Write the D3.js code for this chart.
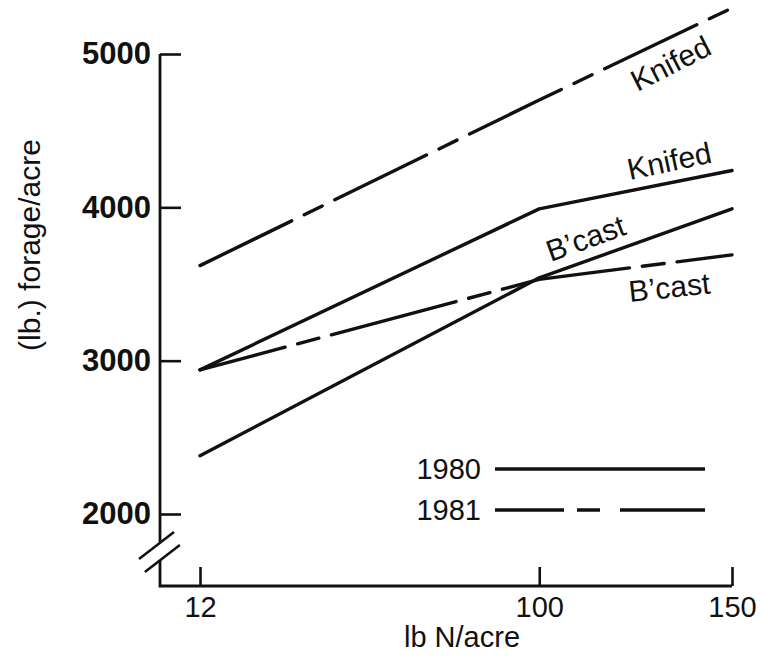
<!DOCTYPE html>
<html>
<head>
<meta charset="utf-8">
<script src="https://cdn.jsdelivr.net/npm/d3@7"></script>
<style>
  body { margin: 0; background: #fff; }
  svg { display: block; }
  text { font-family: "Liberation Sans", Arial, Helvetica, sans-serif; fill: #111; }
</style>
</head>
<body>
<svg id="chart" width="761" height="661"></svg>
<script>
"use strict";

// nitrogen rate (lb N/acre)
const nRates = [12, 100, 150];
// forage yield (lb/acre)
const knifed1980 = [2940, 3990, 4240];
const bcast1980  = [2380, 3540, 3990];
const knifed1981 = [3620, 4700, 5300];
const bcast1981  = [2940, 3530, 3690];

const yTicks = [2000, 3000, 4000, 5000];
const xTicks = [12, 100, 150];
const years = ["1980", "1981"];

// line label anchors, in data units
const labelText = ["Knifed", "Knifed", "B\u2019cast", "B\u2019cast"];
const labelN    = [125.5, 123.5, 103, 123.5];
const labelYld  = [4752, 4178, 3643, 3383];
const labelRot  = [-27, -12, -20, -6];

const dashKnifed81 = "102,14,20,14";
const dashBcast81 = "129,13,22,13";

const svg = d3.select("#chart");
const ink = "#111";
const fs = "29px";

const x = d3.scaleLinear().domain([12, 150]).range([200, 732]);
const y = d3.scaleLinear().domain([2000, 5000]).range([514, 54]);

const axisX = x(12) - 40;      // where the y axis sits
const axisY = y(2000) + 72;    // where the x axis sits

// y axis, ticks point inward
const gy = svg.append("g")
	.attr("transform", `translate(${axisX},0)`)
	.call(d3.axisLeft(y).tickValues(yTicks).tickFormat(d3.format("d"))
		.tickSize(-21).tickSizeOuter(0).tickPadding(9));
gy.select(".domain").remove();
gy.selectAll("line").attr("stroke", ink).attr("stroke-width", 2.6);
gy.selectAll("text")
	.style("font-size", "31px")
	.style("font-weight", "bold")
	.attr("fill", ink);

// x axis, ticks point up
const gx = svg.append("g")
	.attr("transform", `translate(0,${axisY})`)
	.call(d3.axisBottom(x).tickValues(xTicks).tickSize(-19).tickSizeOuter(0).tickPadding(10));
gx.select(".domain").remove();
gx.selectAll("line").attr("stroke", ink).attr("stroke-width", 2.6);
gx.selectAll("text")
	.style("font-size", fs)
	.attr("fill", ink);

// axis lines with the break
const y2k = y(2000);
svg.append("path")
	.attr("d", `M${axisX},${y(5000)}V${y2k + 28}M${axisX},${y2k + 46}V${axisY}H${x(150)}`)
	.attr("fill", "none")
	.attr("stroke", ink)
	.attr("stroke-width", 2.8)
	.attr("stroke-linejoin", "miter");
svg.selectAll(".brk")
	.data([0, 13])
	.join("line")
	.attr("x1", d => axisX - 21 + d * 0.45)
	.attr("y1", d => y2k + 45 + d)
	.attr("x2", d => axisX + 14 + d * 0.45)
	.attr("y2", d => y2k + 18 + d)
	.attr("stroke", ink)
	.attr("stroke-width", 2.6);

// axis titles
svg.append("text")
	.attr("transform", `translate(${axisX - 120},245) rotate(-90)`)
	.attr("text-anchor", "middle")
	.style("font-size", "30px")
	.text("(lb.) forage/acre");
svg.append("text")
	.attr("x", 462)
	.attr("y", 647)
	.attr("text-anchor", "middle")
	.style("font-size", fs)
	.text("lb N/acre");

// data lines
const line = d3.line()
	.x((d, i) => x(nRates[i]))
	.y(d => y(d));

const series = [
	{vals: knifed1980, dash: null, offset: 0},
	{vals: bcast1980, dash: null, offset: 0},
	{vals: knifed1981, dash: dashKnifed81, offset: 0},
	{vals: bcast1981, dash: dashBcast81, offset: 41}
];

svg.append("g")
	.selectAll("path")
	.data(series)
	.join("path")
	.attr("d", d => line(d.vals))
	.attr("fill", "none")
	.attr("stroke", ink)
	.attr("stroke-width", 3.4)
	.attr("stroke-linecap", "round")
	.attr("stroke-linejoin", "round")
	.attr("stroke-dasharray", d => d.dash)
	.attr("stroke-dashoffset", d => d.offset);

// line labels
svg.append("g")
	.selectAll("text")
	.data(labelText)
	.join("text")
	.attr("transform", (d, i) => `translate(${x(labelN[i])},${y(labelYld[i])}) rotate(${labelRot[i]})`)
	.style("font-size", "30px")
	.text(d => d);

// legend
const legend = svg.append("g");
legend.selectAll("text")
	.data(years)
	.join("text")
	.attr("x", 481)
	.attr("y", (d, i) => 479 + i * 41)
	.attr("text-anchor", "end")
	.style("font-size", fs)
	.text(d => d);
legend.selectAll("line")
	.data(years)
	.join("line")
	.attr("x1", 495)
	.attr("x2", 705)
	.attr("y1", (d, i) => 469 + i * 41)
	.attr("y2", (d, i) => 469 + i * 41)
	.attr("stroke", ink)
	.attr("stroke-width", 3.4)
	.attr("stroke-dasharray", (d, i) => i ? "69,13,23,20,85,13" : null);
</script>
</body>
</html>
